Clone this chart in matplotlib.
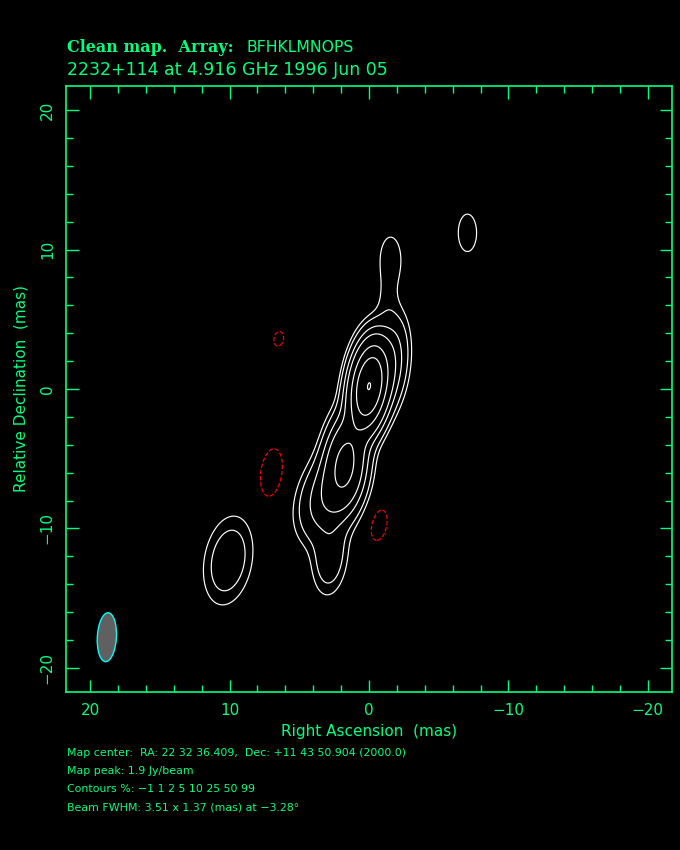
import numpy as np
import matplotlib
matplotlib.use("Agg")
import matplotlib.pyplot as plt
from matplotlib.patches import Ellipse
from matplotlib.ticker import MultipleLocator

green = "#00ff80"

# contour levels in percent of the map peak
contour_pct = [-1, 1, 2, 5, 10, 25, 50, 99]
map_peak = 1.9   # Jy/beam

# restored source components (mas, Jy/beam, mas, mas, deg)
#            core   west   neck   north  second  SE     tail   NW     east   neg    neg    neg
comp_x    = [0.0,  -1.7,  -1.3,  -1.55,  1.7,   2.9,   2.8,  -7.06,  10.1,  6.47,  7.0,  -0.72]
comp_y    = [0.2,   2.0,   6.3,   9.3,  -5.3,  -7.6, -12.0,  11.2, -12.3,   3.6,  -6.0,  -9.76]
comp_peak = [1.85,  0.12,  0.018, 0.034, 0.55,  0.16,  0.07,  0.035, 0.068, -0.0225, -0.044, -0.029]
comp_maj  = [4.1,   4.5,   3.0,   3.4,   4.3,   4.5,   4.0,   2.8,   4.7,   2.0,   3.1,   2.8]
comp_min  = [1.7,   1.6,   1.4,   1.55,  1.9,   2.6,   1.8,   1.37,  2.5,   1.3,   1.37,  1.37]
comp_pa   = [-8,   -5,     0,     0,    -5,   -20,    -5,     0,   -10,   -10,    -8,   -12]

# clean beam
beam_x, beam_y = 18.8, -17.8
beam_maj, beam_min, beam_pa = 3.51, 1.37, -3.28

# map grid
g = np.linspace(-21.73, 21.73, 700)
X, Y = np.meshgrid(g, g)
Z = np.zeros_like(X)
for x0, y0, p, a, b, pa in zip(comp_x, comp_y, comp_peak, comp_maj, comp_min, comp_pa):
    t = np.radians(pa)
    dx, dy = X - x0, Y - y0
    u = dx*np.sin(t) + dy*np.cos(t)      # along major axis
    v = dx*np.cos(t) - dy*np.sin(t)      # along minor axis
    Z += p*np.exp(-4*np.log(2)*((u/a)**2 + (v/b)**2))

levels = Z.max()*np.array(contour_pct)/100.0

fig = plt.figure(figsize=(6.8, 8.5), dpi=100, facecolor="black")
ax = fig.add_axes([66/680, 1-692/850, 606/680, 606/850], facecolor="black")

ax.contour(X, Y, Z, levels=levels[levels > 0], colors="white", linewidths=0.85)
ax.contour(X, Y, Z, levels=levels[levels < 0], colors="red", linewidths=0.85,
           linestyles="--")

ax.add_patch(Ellipse((beam_x, beam_y), beam_min, beam_maj, angle=-beam_pa,
                     facecolor="#606060", edgecolor="cyan", linewidth=1.0))

ax.set_xlim(21.73, -21.73)
ax.set_ylim(-21.73, 21.73)
ax.xaxis.set_major_locator(MultipleLocator(10))
ax.xaxis.set_minor_locator(MultipleLocator(2))
ax.yaxis.set_major_locator(MultipleLocator(10))
ax.yaxis.set_minor_locator(MultipleLocator(2))
ax.tick_params(which="both", direction="in", top=True, right=True,
               color=green, labelcolor=green, labelsize=11, width=1)
ax.tick_params(which="major", length=9, pad=8)
ax.tick_params(which="minor", length=5)
plt.setp(ax.get_yticklabels(), rotation=90, va="center")
for s in ax.spines.values():
    s.set_color(green)
    s.set_linewidth(1.2)

ax.set_xlabel("Right Ascension  (mas)", color=green, fontsize=11, labelpad=4)
ax.set_ylabel("Relative Declination  (mas)", color=green, fontsize=11, labelpad=8)

fig.text(67/680, 1-47/850, "Clean map.  Array:", color=green, fontsize=11.5,
         family="DejaVu Serif", fontweight="bold", va="center")
fig.text(247/680, 1-47/850, "BFHKLMNOPS", color=green, fontsize=11.3, va="center")
fig.text(67/680, 1-70/850, "2232+114 at 4.916 GHz 1996 Jun 05", color=green,
         fontsize=12.5, va="center")

foot = ["Map center:  RA: 22 32 36.409,  Dec: +11 43 50.904 (2000.0)",
        "Map peak: 1.9 Jy/beam",
        "Contours %: \u22121 1 2 5 10 25 50 99",
        "Beam FWHM: 3.51 x 1.37 (mas) at \u22123.28\u00b0"]
for i, line in enumerate(foot):
    fig.text(67/680, 1-(753+18*i)/850, line, color=green, fontsize=7.9, va="center")

fig.savefig("out.png", dpi=100, facecolor="black")
